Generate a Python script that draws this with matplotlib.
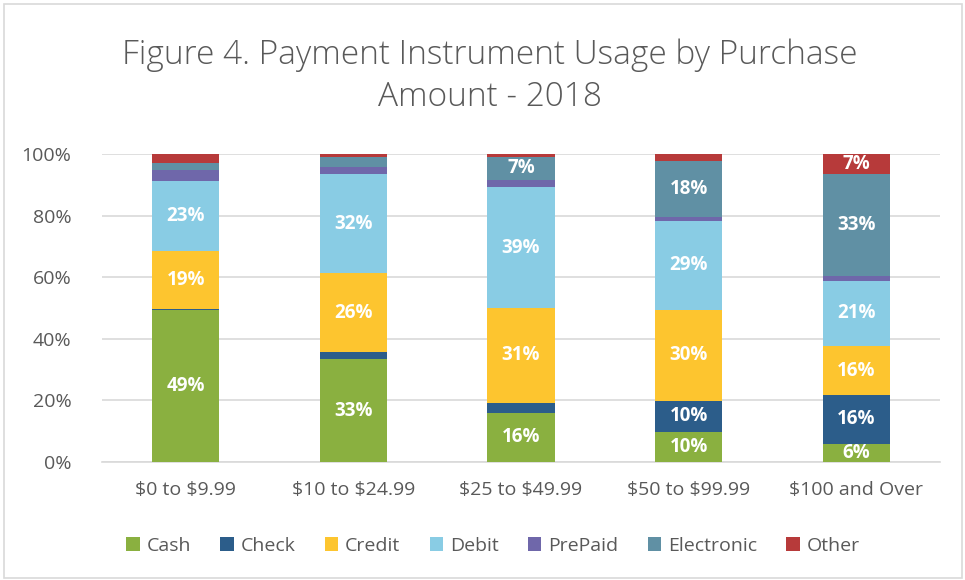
import matplotlib
matplotlib.use("Agg")
import matplotlib.pyplot as plt
from matplotlib.patches import Rectangle
import numpy as np

categories = ["$0 to $9.99", "$10 to $24.99", "$25 to $49.99", "$50 to $99.99", "$100 and Over"]
series_names = ["Cash", "Check", "Credit", "Debit", "PrePaid", "Electronic", "Other"]
cash       = [49.2, 33.3, 16.0,  9.8,  6.0]
check      = [ 0.5,  2.4,  3.2, 10.0, 15.6]
credit     = [18.7, 25.6, 30.8, 29.7, 16.0]
debit      = [22.7, 32.1, 39.2, 28.8, 21.3]
prepaid    = [ 3.8,  2.5,  2.5,  1.2,  1.4]
electronic = [ 2.1,  3.1,  7.3, 18.2, 33.1]
other      = [ 3.0,  1.1,  0.9,  2.3,  6.7]
yticks = [0, 20, 40, 60, 80, 100]
ytick_labels = ["0%", "20%", "40%", "60%", "80%", "100%"]
title = "Figure 4. Payment Instrument Usage by Purchase\nAmount - 2018"

colors = ["#8AB040", "#2C5D8A", "#FDC52F", "#89CCE4", "#6F67AA", "#6090A4", "#B73A3A"]
values = [cash, check, credit, debit, prepaid, electronic, other]

plt.rcParams['font.family'] = ['Open Sans', 'DejaVu Sans']
txt = "#595959"

fig = plt.figure(figsize=(9.65, 5.8), dpi=100)
ax = fig.add_axes([102/965, (580-462)/580, (940-102)/965, (462-154)/580])

x = np.arange(len(categories))
bottom = np.zeros(len(categories))
for name, vals, col in zip(series_names, values, colors):
    vals = np.array(vals)
    ax.bar(x, vals, 0.4, bottom=bottom, color=col, label=name, zorder=3)
    for xi, b, v in zip(x, bottom, vals):
        if v >= 5:
            ax.text(xi, b + v / 2, f"{round(v)}%", ha="center", va="center",
                    color="white", fontsize=13.5, fontweight="bold", zorder=4)
    bottom += vals

ax.set_xlim(-0.5, len(categories) - 0.5)
ax.set_ylim(0, 100)
ax.set_yticks(yticks)
ax.set_yticklabels(ytick_labels)
ax.set_xticks(x)
ax.set_xticklabels(categories, parse_math=False)
ax.tick_params(axis="both", length=0, colors=txt, labelsize=14)
ax.tick_params(axis="x", pad=14)
ax.tick_params(axis="y", pad=22)
ax.grid(axis="y", color="#D9D9D9", linewidth=1.2, zorder=0)
for s in ["left", "right", "top"]:
    ax.spines[s].set_visible(False)
ax.spines["bottom"].set_color("#D9D9D9")
ax.spines["bottom"].set_linewidth(1.2)

fig.text(490/965, 1 - 76/580, title, ha="center", va="center", fontsize=24,
         color=txt, fontweight="light", linespacing=1.35)

leg = fig.legend(loc="center", bbox_to_anchor=(493/965, 1 - 546/580), ncol=7,
                 frameon=False, fontsize=14, handlelength=0.7, handleheight=0.7,
                 handletextpad=0.35, columnspacing=1.5)
for t in leg.get_texts():
    t.set_color(txt)

fig.patches.append(Rectangle((4/965, 2/580), 958/965, 574/580, transform=fig.transFigure,
                             fill=False, edgecolor="#D9D9D9", linewidth=1.2))

fig.savefig("out.png", dpi=100)
